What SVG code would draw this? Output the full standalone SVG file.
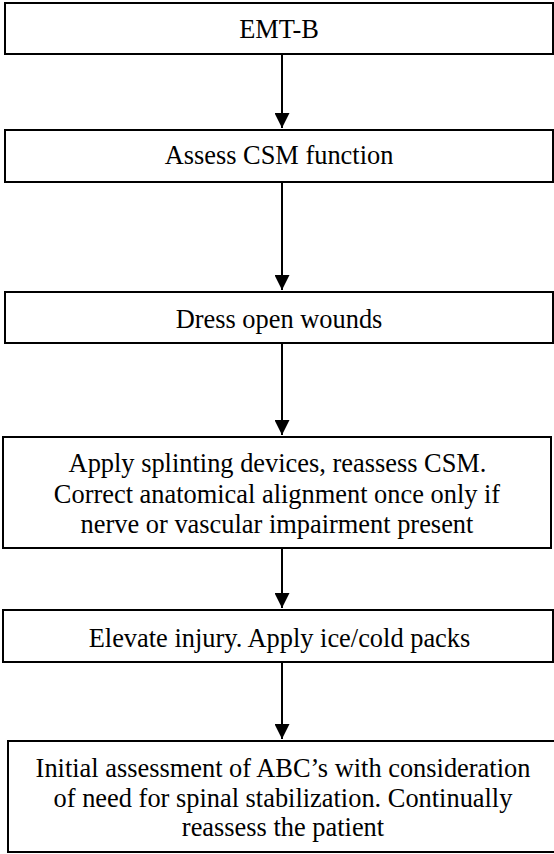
<svg xmlns="http://www.w3.org/2000/svg" width="554" height="854" viewBox="0 0 554 854">
<style>
.box{fill:#fff;stroke:#000;stroke-width:2}
.t{font-family:"Liberation Serif","Times New Roman",serif;font-size:26.4px;fill:#000;text-anchor:middle}
.c{stroke:#000;stroke-width:2;fill:none}
</style>
<defs>
<marker id="ah" viewBox="0 0 15 15" refX="15" refY="7.5" markerWidth="15" markerHeight="15" markerUnits="userSpaceOnUse" orient="auto">
<path d="M0,0 L15,7.5 L0,15 Z" fill="#000"/>
</marker>
</defs>
<rect width="554" height="854" fill="#fff"/>
<g id="n1"><rect class="box" x="5" y="3" width="548" height="51"/><text class="t" x="279" y="38">EMT-B</text></g>
<g id="n2"><rect class="box" x="5" y="130" width="548" height="52"/><text class="t" x="279" y="164">Assess CSM function</text></g>
<g id="n3"><rect class="box" x="5" y="292" width="548" height="51"/><text class="t" x="279" y="328">Dress open wounds</text></g>
<g id="n4"><rect class="box" x="3" y="437" width="548" height="111"/><text class="t" x="277.5" y="472">Apply splinting devices, reassess CSM.</text><text class="t" x="277" y="502.5">Correct anatomical alignment once only if</text><text class="t" x="277" y="532.5">nerve or vascular impairment present</text></g>
<g id="n5"><rect class="box" x="3" y="610" width="550" height="52"/><text class="t" x="279.5" y="647">Elevate injury. Apply ice/cold packs</text></g>
<g id="n6"><rect class="box" x="8" y="741" width="560" height="111"/><text class="t" x="283" y="777">Initial assessment of ABC’s with consideration</text><text class="t" x="283" y="807">of need for spinal stabilization. Continually</text><text class="t" x="283" y="836">reassess the patient</text></g>
<g id="connectors">
<line class="c" x1="282" y1="54" x2="282" y2="128" marker-end="url(#ah)"/>
<line class="c" x1="282" y1="182" x2="282" y2="290" marker-end="url(#ah)"/>
<line class="c" x1="282" y1="343" x2="282" y2="435" marker-end="url(#ah)"/>
<line class="c" x1="282" y1="548" x2="282" y2="608" marker-end="url(#ah)"/>
<line class="c" x1="282" y1="662" x2="282" y2="739" marker-end="url(#ah)"/>
</g>
</svg>
